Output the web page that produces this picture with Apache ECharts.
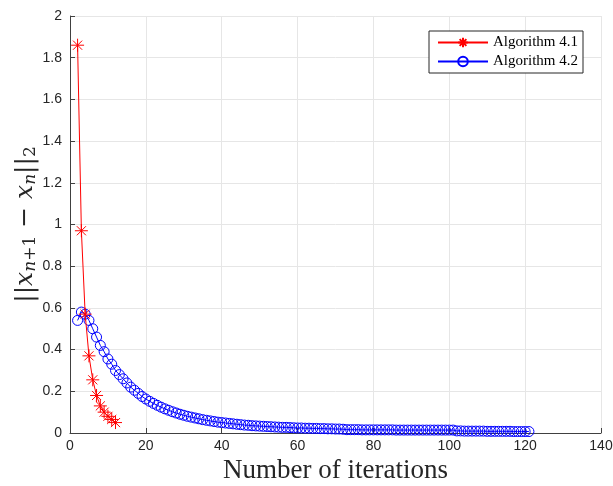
<!DOCTYPE html>
<html>
<head>
<meta charset="utf-8">
<script src="https://cdn.jsdelivr.net/npm/echarts@6/dist/echarts.min.js"></script>
<style>
  html, body { margin: 0; padding: 0; background: #fff; }
  #main { width: 613px; height: 486px; }
</style>
</head>
<body>
<div id="main"></div>
<script>
// iterations of Algorithm 4.1 (start at n = 2)
const alg1X = [2, 3, 4, 5, 6, 7, 8, 9, 10, 11, 12];
const alg1Y = [1.86, 0.97, 0.57, 0.37, 0.255, 0.18, 0.13, 0.10, 0.08, 0.065, 0.05];

// Algorithm 4.2, n = 2 .. 121
const alg2Y = [
  0.54, 0.58, 0.57, 0.54, 0.50, 0.46, 0.42, 0.39, 0.355, 0.33,
  0.30, 0.28, 0.26, 0.24, 0.22, 0.205, 0.19, 0.175, 0.163, 0.152,
  0.142, 0.133, 0.124, 0.116, 0.109, 0.102, 0.096, 0.090, 0.085, 0.080,
  0.076, 0.072, 0.068, 0.064, 0.061, 0.058, 0.055, 0.052, 0.050, 0.048,
  0.046, 0.044, 0.042, 0.040, 0.038, 0.037, 0.035, 0.034, 0.033, 0.032,
  0.031, 0.030, 0.029, 0.028, 0.027, 0.027, 0.026, 0.025, 0.024, 0.024,
  0.023, 0.023, 0.022, 0.022, 0.021, 0.021, 0.020, 0.020, 0.019, 0.019,
  0.018, 0.016, 0.016, 0.016, 0.016, 0.015, 0.015, 0.015, 0.015, 0.015,
  0.015, 0.015, 0.015, 0.015, 0.014, 0.014, 0.014, 0.014, 0.014, 0.014,
  0.014, 0.014, 0.014, 0.014, 0.014, 0.014, 0.014, 0.014, 0.014, 0.014,
  0.010, 0.010, 0.009, 0.009, 0.009, 0.009, 0.009, 0.009, 0.008, 0.008,
  0.008, 0.008, 0.008, 0.008, 0.008, 0.007, 0.007, 0.007, 0.007, 0.007
];
const alg2X = alg2Y.map((v, i) => i + 2);

const seriesNames = ['Algorithm 4.1', 'Algorithm 4.2'];

let myChart = echarts.init(document.getElementById('main'));
let serif = '"Liberation Serif", serif';
let labelSerif = '"DejaVu Serif", serif';
let star = 'path://M0,-10L0,10M-10,0L10,0M-7,-7L7,7M-7,7L7,-7';

let option = {
  animation: false,
  backgroundColor: '#fff',
  grid: { left: 70, right: 12, top: 16, bottom: 53, show: false, outerBoundsMode: 'none' },
  legend: {
    data: seriesNames,
    right: 30,
    top: 31,
    orient: 'vertical',
    align: 'left',
    backgroundColor: '#fff',
    borderColor: '#262626',
    borderWidth: 1,
    borderRadius: 0,
    padding: [4, 5, 4, 8],
    itemGap: 4,
    itemWidth: 50,
    itemHeight: 12,
    textStyle: { fontFamily: serif, fontSize: 15, color: '#000' }
  },
  xAxis: {
    type: 'value',
    min: 0, max: 140, interval: 20,
    name: 'Number of iterations',
    nameLocation: 'middle',
    nameGap: 23,
    nameTextStyle: { fontFamily: serif, fontSize: 27, color: '#262626' },
    axisLine: { onZero: false, lineStyle: { color: '#404040', width: 1 } },
    axisTick: { inside: true, length: 5, lineStyle: { color: '#404040' } },
    axisLabel: { fontFamily: 'Liberation Sans, Arial', fontSize: 14, color: '#262626', margin: 6 },
    splitLine: { show: true, lineStyle: { color: '#e6e6e6' } }
  },
  yAxis: {
    type: 'value',
    min: 0, max: 2, interval: 0.2,
    name: '{b|||}{a|x}{s|n}{u|+1}{b| − }{a|x}{s|n}{b|||}{u|2}',
    nameLocation: 'middle',
    nameMoveOverlap: false,
    nameGap: 30,
    nameTextStyle: {
      rich: {
        a: { fontFamily: labelSerif, fontSize: 25, fontStyle: 'italic', color: '#262626', lineHeight: 30 },
        b: { fontFamily: labelSerif, fontSize: 25, color: '#262626', lineHeight: 30 },
        s: { fontFamily: labelSerif, fontSize: 17, fontStyle: 'italic', color: '#262626', lineHeight: 30, padding: [12, 0, 0, 0] },
        u: { fontFamily: labelSerif, fontSize: 17, color: '#262626', lineHeight: 30, padding: [12, 0, 0, 0] }
      }
    },
    axisLine: { show: true, lineStyle: { color: '#404040', width: 1 } },
    axisTick: { show: true, inside: true, length: 5, lineStyle: { color: '#404040' } },
    axisLabel: {
      fontFamily: 'Liberation Sans, Arial', fontSize: 14, color: '#262626', margin: 8,
      formatter: v => String(Math.round(v * 10) / 10)
    },
    splitLine: { show: true, lineStyle: { color: '#e6e6e6' } }
  },
  series: [
    {
      name: seriesNames[0],
      type: 'line',
      data: alg1X.map((x, i) => [x, alg1Y[i]]),
      symbol: star,
      symbolSize: 13,
      lineStyle: { color: '#ff0000', width: 1 },
      itemStyle: { color: '#ff0000', borderColor: '#ff0000', borderWidth: 1 },
      z: 3
    },
    {
      name: seriesNames[1],
      type: 'line',
      data: alg2X.map((x, i) => [x, alg2Y[i]]),
      symbol: 'circle',
      symbolSize: 10,
      showAllSymbol: true,
      lineStyle: { color: '#0000ff', width: 1 },
      itemStyle: { color: 'rgba(0,0,0,0)', borderColor: '#0000ff', borderWidth: 1 },
      z: 2
    }
  ]
};
myChart.setOption(option);
</script>
</body>
</html>
